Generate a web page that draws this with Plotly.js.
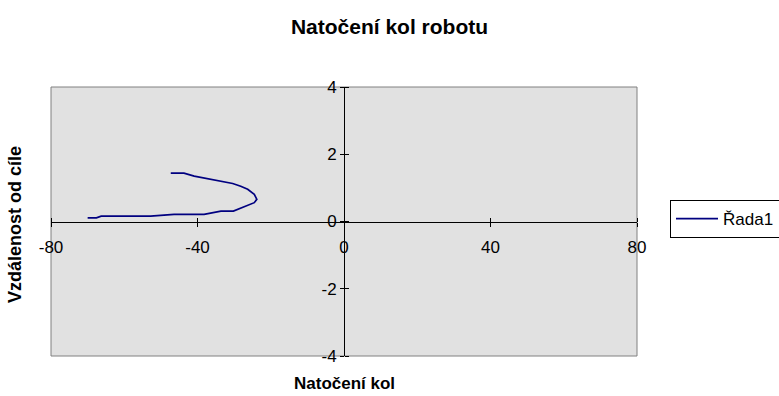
<!DOCTYPE html>
<html>
<head>
<meta charset="utf-8">
<script src="https://cdn.plot.ly/plotly-3.0.1.min.js"></script>
<style>
  html, body { margin: 0; padding: 0; background: #fff; }
  #chart { width: 779px; height: 396px; }
</style>
</head>
<body>
<div id="chart"></div>
<script>
// Wheel angle (x) against distance from the target (y)
const wheelAngle = [-47.3, -43.7, -40.9, -37.3, -33.2, -30.4, -28.2, -26.3, -24.5, -23.8, -24.5,
                    -26.8, -29.1, -30.2, -33.6, -37.3, -38.2, -46.4, -52.8, -66.3, -67.6, -70.0];
const distance   = [1.44, 1.44, 1.35, 1.28, 1.19, 1.13, 1.05, 0.96, 0.81, 0.66, 0.56,
                    0.46, 0.38, 0.31, 0.31, 0.22, 0.21, 0.21, 0.16, 0.16, 0.11, 0.11];
const seriesName = 'Řada1';

const xTicks = [-80, -40, 0, 40, 80];
const xTickText = ['-80', '-40', '0', '40', '80'];
const yTicks = [-4, -2, 0, 2, 4];
const yTickText = ['-4', '-2', '0', '2', '4'];

const chartTitle = 'Natočení kol robotu';
const xTitle = 'Natočení kol';
const yTitle = 'Vzdálenost od cíle';

const FONT = 'Arial, "Liberation Sans", sans-serif';
const TICK_SIZE = 17;

const trace = {
  x: wheelAngle,
  y: distance,
  type: 'scatter',
  mode: 'lines',
  name: seriesName,
  line: { color: '#000080', width: 1.7 },
  xaxis: 'x',
  yaxis: 'y'
};

// Axes cross at the origin; a second axis on each side gives crossing tick marks
const baseX = {
  range: [-80, 80],
  tickvals: xTicks,
  ticktext: xTickText,
  showgrid: false,
  zeroline: false,
  anchor: 'free',
  position: 0.5,
  ticklen: 4,
  tickcolor: '#000',
  fixedrange: true
};
const baseY = {
  range: [-4, 4],
  tickvals: yTicks,
  ticktext: yTickText,
  showgrid: false,
  zeroline: false,
  anchor: 'free',
  position: 0.5,
  ticklen: 4,
  tickcolor: '#000',
  fixedrange: true
};

const layout = {
  width: 779,
  height: 396,
  margin: { l: 51, r: 142, t: 87, b: 40, autoexpand: false },
  paper_bgcolor: '#ffffff',
  plot_bgcolor: '#e1e1e1',
  font: { family: FONT, size: TICK_SIZE, color: '#000' },
  title: {
    text: chartTitle,
    font: { family: FONT, size: 21, weight: 'bold', color: '#000' },
    x: 0.5, xref: 'container',
    y: 1 - 27 / 396, yref: 'container', yanchor: 'middle'
  },
  xaxis: Object.assign({}, baseX, {
    side: 'bottom',
    ticks: 'outside',
    showline: true, linecolor: '#000', linewidth: 1,
    ticklabelstandoff: 6,
    tickfont: { family: FONT, size: TICK_SIZE, color: '#000' }
  }),
  xaxis2: Object.assign({}, baseX, {
    overlaying: 'x',
    side: 'top',
    ticks: 'outside',
    showticklabels: false,
    showline: false
  }),
  yaxis: Object.assign({}, baseY, {
    side: 'left',
    ticks: 'outside',
    showline: true, linecolor: '#000', linewidth: 1,
    tickfont: { family: FONT, size: TICK_SIZE, color: '#000' }
  }),
  yaxis2: Object.assign({}, baseY, {
    overlaying: 'y',
    side: 'right',
    ticks: 'outside',
    showticklabels: false,
    showline: false
  }),
  showlegend: true,
  legend: {
    x: (670 - 51) / 586, xanchor: 'left',
    y: (356 - 219) / 269, yanchor: 'middle',
    bgcolor: '#ffffff',
    bordercolor: '#000',
    borderwidth: 1,
    itemwidth: 42,
    font: { family: FONT, size: TICK_SIZE, color: '#000' }
  },
  shapes: [{
    type: 'rect', xref: 'paper', yref: 'paper',
    x0: 0, x1: 1, y0: 0, y1: 1,
    line: { color: '#808080', width: 1 },
    fillcolor: 'rgba(0,0,0,0)',
    layer: 'below'
  }],
  annotations: [
    {
      text: xTitle, xref: 'paper', yref: 'paper',
      x: 0.5, y: (356 - 395) / 269, xanchor: 'center', yanchor: 'bottom',
      showarrow: false,
      font: { family: FONT, size: 17, weight: 'bold', color: '#000' }
    },
    {
      text: yTitle, xref: 'paper', yref: 'paper',
      x: (15 - 51) / 586, y: (356 - 225) / 269, xanchor: 'center', yanchor: 'middle',
      textangle: -90,
      showarrow: false,
      font: { family: FONT, size: 18, weight: 'bold', color: '#000' }
    }
  ]
};

// Invisible helper traces bind the secondary tick axes
const helperX = { x: [-80, 80], y: [0, 0], xaxis: 'x2', yaxis: 'y', mode: 'lines',
                  line: { width: 0 }, showlegend: false, hoverinfo: 'skip' };
const helperY = { x: [0, 0], y: [-4, 4], xaxis: 'x', yaxis: 'y2', mode: 'lines',
                  line: { width: 0 }, showlegend: false, hoverinfo: 'skip' };

Plotly.newPlot('chart', [trace, helperX, helperY], layout, { displayModeBar: false, staticPlot: true });
</script>
</body>
</html>
